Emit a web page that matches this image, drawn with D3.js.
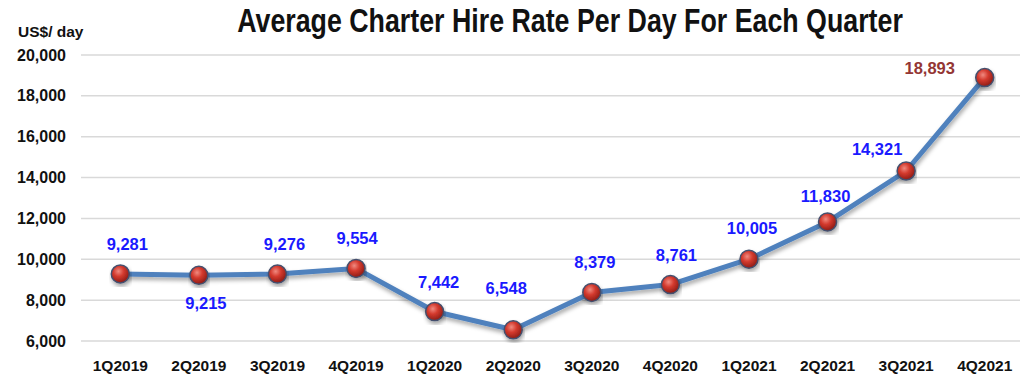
<!DOCTYPE html>
<html>
<head>
<meta charset="utf-8">
<script src="https://cdn.jsdelivr.net/npm/d3@7"></script>
<style>
  html, body { margin: 0; padding: 0; background: #fff; }
  svg { display: block; font-family: "Liberation Sans", Arial, sans-serif; }
</style>
</head>
<body>
<div id="chart"></div>
<script>
const quarters = ["1Q2019", "2Q2019", "3Q2019", "4Q2019", "1Q2020", "2Q2020",
                  "3Q2020", "4Q2020", "1Q2021", "2Q2021", "3Q2021", "4Q2021"];
const hireRates = [9281, 9215, 9276, 9554, 7442, 6548, 8379, 8761, 10005, 11830, 14321, 18893];
const yTicks = [6000, 8000, 10000, 12000, 14000, 16000, 18000, 20000];

// label offsets relative to each marker (dx, dy)
const labelOffsets = [[7, -24], [7, 34], [7, -24], [1, -24], [4, -24], [-7, -36],
                      [3, -24], [6, -24], [3, -25], [-2, -20], [-29, -16], [-55, -4]];

const width = 1028, height = 388;
const margin = { top: 55, right: 4, bottom: 47, left: 81 };

const svg = d3.select("#chart").append("svg")
  .attr("width", width)
  .attr("height", height);

const defs = svg.append("defs");

const ball = defs.append("radialGradient")
  .attr("id", "ball")
  .attr("cx", "40%").attr("cy", "35%").attr("r", "65%");
ball.append("stop").attr("offset", "0%").attr("stop-color", "#f08a80");
ball.append("stop").attr("offset", "45%").attr("stop-color", "#d43a2e");
ball.append("stop").attr("offset", "100%").attr("stop-color", "#8e1c16");

const shadow = defs.append("filter")
  .attr("id", "shadow")
  .attr("x", "-10%").attr("y", "-10%").attr("width", "120%").attr("height", "130%");
shadow.append("feDropShadow")
  .attr("dx", 1).attr("dy", 3).attr("stdDeviation", 2)
  .attr("flood-color", "#000").attr("flood-opacity", 0.35);

const x = d3.scaleBand()
  .domain(quarters)
  .range([margin.left, width - margin.right]);

const y = d3.scaleLinear()
  .domain([6000, 20000])
  .range([height - margin.bottom, margin.top]);

const cx = d => x(d) + x.bandwidth() / 2;

// Title - tall narrow look, squeezed horizontally to ~666px
const title = svg.append("text")
  .attr("text-anchor", "middle")
  .style("font-weight", "bold")
  .style("font-size", "34px")
  .style("fill", "#111")
  .text("Average Charter Hire Rate Per Day For Each Quarter");
const tw = title.node().getComputedTextLength();
const sx = tw > 0 ? Math.min(1, 666 / tw) : 1;
title.attr("transform", `translate(570,32) scale(${sx},1)`);

// Unit label
svg.append("text")
  .attr("x", 18)
  .attr("y", 37)
  .style("font-weight", "bold")
  .style("font-size", "15.5px")
  .style("fill", "#111")
  .text("US$/ day");

// Grid lines
svg.append("g")
  .selectAll("line")
  .data(yTicks)
  .join("line")
  .attr("x1", margin.left)
  .attr("x2", 1020)
  .attr("y1", d => y(d))
  .attr("y2", d => y(d))
  .attr("stroke", "#d9d9d9")
  .attr("stroke-width", 1.5);

// Y axis labels
const yAxis = svg.append("g")
  .attr("transform", `translate(${margin.left - 15},0)`)
  .call(d3.axisLeft(y).tickValues(yTicks).tickFormat(d3.format(",")).tickSize(0).tickPadding(0));
yAxis.select(".domain").remove();
yAxis.selectAll("text")
  .style("font-family", "'Liberation Sans', Arial, sans-serif")
  .style("font-weight", "bold")
  .style("font-size", "16px")
  .style("fill", "#111");

// X axis labels
const xAxis = svg.append("g")
  .attr("transform", `translate(0,${height - margin.bottom + 25})`)
  .call(d3.axisBottom(x).tickSize(0).tickPadding(0));
xAxis.select(".domain").remove();
xAxis.selectAll("text")
  .attr("dy", "0.35em")
  .style("font-family", "'Liberation Sans', Arial, sans-serif")
  .style("font-weight", "bold")
  .style("font-size", "15.5px")
  .style("fill", "#111");

// Line
const pts = quarters.map((q, i) => ({ q, v: hireRates[i], i }));

svg.append("path")
  .datum(pts)
  .attr("fill", "none")
  .attr("stroke", "#4f81bd")
  .attr("stroke-width", 5)
  .attr("stroke-linejoin", "round")
  .attr("filter", "url(#shadow)")
  .attr("d", d3.line().x(d => cx(d.q)).y(d => y(d.v)));

// Markers
svg.append("g")
  .selectAll("circle")
  .data(pts)
  .join("circle")
  .attr("cx", d => cx(d.q))
  .attr("cy", d => y(d.v))
  .attr("r", 9)
  .attr("fill", "url(#ball)")
  .attr("stroke", "#44506e")
  .attr("stroke-width", 1.5)
  .attr("filter", "url(#shadow)");

// Value labels
svg.append("g")
  .selectAll("text")
  .data(pts)
  .join("text")
  .attr("x", d => cx(d.q) + labelOffsets[d.i][0])
  .attr("y", d => y(d.v) + labelOffsets[d.i][1])
  .attr("text-anchor", "middle")
  .style("font-weight", "bold")
  .style("font-size", "16.5px")
  .style("fill", d => d.i === pts.length - 1 ? "#943634" : "#1a1aff")
  .text(d => d3.format(",")(d.v));
</script>
</body>
</html>
